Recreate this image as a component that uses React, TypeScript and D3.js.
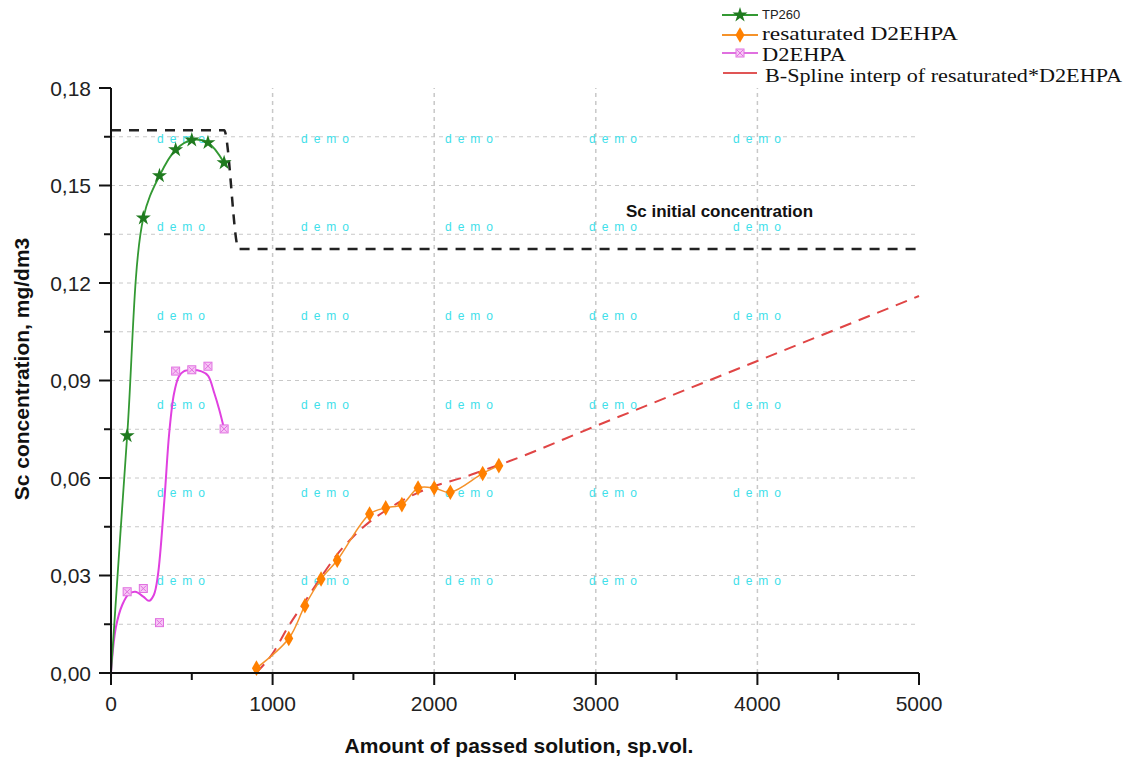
import React from "react";
import * as d3 from "d3";

const W = 1134;
const H = 763;

// TP260 series
const tpX = [0, 100, 200, 300, 400, 500, 600, 700];
const tpY = [0, 0.073, 0.140, 0.153, 0.161, 0.164, 0.1632, 0.157];

// D2EHPA series (markers)
const dX = [100, 200, 300, 400, 500, 600, 700];
const dY = [0.025, 0.026, 0.0155, 0.0929, 0.0933, 0.0944, 0.0751];
// D2EHPA smoothed curve
const dFitX = [0, 30, 70, 110, 150, 200, 235, 265, 290, 330, 360, 390, 420, 450, 500, 560, 600, 640, 670, 700];
const dFitY = [0, 0.014, 0.021, 0.0243, 0.025, 0.0235, 0.0222, 0.024, 0.030, 0.053, 0.0737, 0.086, 0.0912, 0.0928, 0.0932, 0.0928, 0.0915, 0.086, 0.081, 0.0751];

// resaturated D2EHPA
const rX = [900, 1100, 1200, 1300, 1400, 1600, 1700, 1800, 1900, 2000, 2100, 2300, 2400];
const rY = [0.0015, 0.0106, 0.0207, 0.0289, 0.0347, 0.0489, 0.0508, 0.0518, 0.0569, 0.0569, 0.0556, 0.0614, 0.0638];

// B-Spline interp
const bX = [897, 1000, 1100, 1200, 1300, 1400, 1500, 1600, 1700, 1800, 1900, 2000, 2100, 2200, 2300, 2400, 3000, 4000, 5000];
const bY = [0, 0.006, 0.0145, 0.022, 0.0295, 0.0365, 0.042, 0.0465, 0.050, 0.053, 0.0555, 0.0575, 0.059, 0.0605, 0.0623, 0.064, 0.0760, 0.0960, 0.1160];

// Sc initial concentration
const iX = [0, 700, 790, 5000];
const iY = [0.167, 0.167, 0.1305, 0.1305];

const xTicks = [0, 1000, 2000, 3000, 4000, 5000];
const xMinor = [500, 1500, 2500, 3500, 4500];
const yTicks = [0, 0.03, 0.06, 0.09, 0.12, 0.15, 0.18];
const yMinor = [0.015, 0.045, 0.075, 0.105, 0.135, 0.165];
const yGrid = [0.015, 0.03, 0.045, 0.06, 0.075, 0.09, 0.105, 0.12, 0.135, 0.15, 0.165];
const xGrid = [1000, 2000, 3000, 4000];

const demoCols = [181, 325, 469, 613, 757];
const demoRows = [139, 227, 316, 405, 493, 581];

const SANS = "'Liberation Sans', Arial, sans-serif";
const SERIF = "'Liberation Serif', 'Times New Roman', serif";

export default function App() {
  const x = d3.scaleLinear().domain([0, 5000]).range([111, 919]);
  const y = d3.scaleLinear().domain([0, 0.18]).range([673, 88]);

  const line = (xs: number[], ys: number[], curve: any) =>
    d3
      .line<number>()
      .x((_, i) => x(xs[i]))
      .y((_, i) => y(ys[i]))
      .curve(curve)(xs) || "";

  const star = d3.symbol().type(d3.symbolStar).size(70)() || "";
  const diamond = d3.symbol().type(d3.symbolDiamond).size(70)() || "";

  const sqx = (cx: number, cy: number, k: string) => (
    <g key={k} transform={`translate(${cx},${cy})`}>
      <rect x={-4} y={-4} width={8} height={8} fill="#f7c6f5" stroke="#e070e0" strokeWidth={1} />
      <path d="M-3,-3L3,3M3,-3L-3,3" stroke="#e070e0" strokeWidth={1} />
    </g>
  );

  return (
    <svg width={W} height={H} style={{ position: "absolute", left: 0, top: 0, background: "#fff" }}>
      <rect width={W} height={H} fill="#fff" />
      {/* grid */}
      {yGrid.map((v) => (
        <line key={"yg" + v} x1={x(0)} x2={x(5000)} y1={y(v)} y2={y(v)} stroke="#c8c8c8" strokeWidth={1} strokeDasharray="4,4" />
      ))}
      {xGrid.map((v) => (
        <line key={"xg" + v} x1={x(v)} x2={x(v)} y1={y(0)} y2={y(0.18)} stroke="#c8c8c8" strokeWidth={1.5} strokeDasharray="4,4" />
      ))}
      {/* watermark */}
      {demoRows.map((r) =>
        demoCols.map((c) => (
          <text key={`dm${r}-${c}`} x={c - 24} y={r + 4} fontFamily={SANS} fontSize={12} fill="#3fe0ea" letterSpacing="6px">
            demo
          </text>
        ))
      )}
      {/* initial concentration */}
      <path d={line(iX, iY, d3.curveMonotoneX)} fill="none" stroke="#222" strokeWidth={2.5} strokeDasharray="10,8" />
      <text x={626} y={217} fontFamily={SANS} fontWeight="bold" fontSize={17} fill="#111">
        Sc initial concentration
      </text>
      {/* B-spline */}
      <path d={line(bX, bY, d3.curveMonotoneX)} fill="none" stroke="#e04545" strokeWidth={2} strokeDasharray="12,8" />
      {/* resaturated */}
      <path d={line(rX, rY, d3.curveCatmullRom)} fill="none" stroke="#f5922a" strokeWidth={1.5} />
      {rX.map((v, i) => (
        <path key={"r" + i} d={diamond} transform={`translate(${x(v)},${y(rY[i])})`} fill="#ff8000" />
      ))}
      {/* D2EHPA */}
      <path d={line(dFitX, dFitY, d3.curveCatmullRom)} fill="none" stroke="#e040e0" strokeWidth={2} />
      {dX.map((v, i) => sqx(x(v), y(dY[i]), "d" + i))}
      {/* TP260 */}
      <path d={line(tpX, tpY, d3.curveCatmullRom)} fill="none" stroke="#339933" strokeWidth={1.8} />
      {tpX.slice(1).map((v, i) => (
        <path key={"t" + i} d={star} transform={`translate(${x(v)},${y(tpY[i + 1])})`} fill="#1f7a1f" />
      ))}
      {/* axes */}
      <line x1={x(0)} x2={x(5000)} y1={y(0)} y2={y(0)} stroke="#111" strokeWidth={2} />
      <line x1={x(0)} x2={x(0)} y1={y(0)} y2={y(0.18)} stroke="#111" strokeWidth={2} />
      {xTicks.map((v) => (
        <g key={"xt" + v}>
          <line x1={x(v)} x2={x(v)} y1={y(0)} y2={y(0) + 12} stroke="#111" strokeWidth={2} />
          <text x={x(v)} y={711} textAnchor="middle" fontFamily={SANS} fontSize={21} fill="#222">
            {v}
          </text>
        </g>
      ))}
      {xMinor.map((v) => (
        <line key={"xm" + v} x1={x(v)} x2={x(v)} y1={y(0)} y2={y(0) + 7} stroke="#111" strokeWidth={2} />
      ))}
      {yTicks.map((v) => (
        <g key={"yt" + v}>
          <line x1={x(0) - 12} x2={x(0)} y1={y(v)} y2={y(v)} stroke="#111" strokeWidth={2} />
          <text x={91} y={y(v) + 7.5} textAnchor="end" fontFamily={SANS} fontSize={21} fill="#222">
            {v.toFixed(2).replace(".", ",")}
          </text>
        </g>
      ))}
      {yMinor.map((v) => (
        <line key={"ym" + v} x1={x(0) - 7} x2={x(0)} y1={y(v)} y2={y(v)} stroke="#111" strokeWidth={2} />
      ))}
      {/* axis titles */}
      <text x={519} y={753} textAnchor="middle" fontFamily={SANS} fontWeight="bold" fontSize={21} fill="#111">
        Amount of passed solution, sp.vol.
      </text>
      <text transform="translate(29,369) rotate(-90)" textAnchor="middle" fontFamily={SANS} fontWeight="bold" fontSize={21} fill="#111">
        Sc concentration, mg/dm3
      </text>
      {/* legend */}
      <g>
        <line x1={722} x2={758} y1={15} y2={15} stroke="#339933" strokeWidth={2} />
        <path d={star} transform="translate(740,15)" fill="#1f7a1f" />
        <text x={762} y={19} fontFamily={SANS} fontSize={13} fill="#222">TP260</text>

        <line x1={722} x2={758} y1={35} y2={35} stroke="#f5922a" strokeWidth={2} />
        <path d={diamond} transform="translate(740,35)" fill="#ff8000" />
        <text x={762} y={40} fontFamily={SERIF} fontSize={18} fill="#111" textLength={196} lengthAdjust="spacingAndGlyphs">
          resaturated D2EHPA
        </text>

        <line x1={722} x2={758} y1={53} y2={53} stroke="#e070e0" strokeWidth={2} />
        {sqx(740, 53, "leg")}
        <text x={762} y={61} fontFamily={SERIF} fontSize={18} fill="#111" textLength={84} lengthAdjust="spacingAndGlyphs">D2EHPA</text>

        <line x1={723} x2={757} y1={73} y2={73} stroke="#e05555" strokeWidth={2} />
        <text x={765} y={82} fontFamily={SERIF} fontSize={18} fill="#111" textLength={357} lengthAdjust="spacingAndGlyphs">
          B-Spline interp of resaturated*D2EHPA
        </text>
      </g>
    </svg>
  );
}
